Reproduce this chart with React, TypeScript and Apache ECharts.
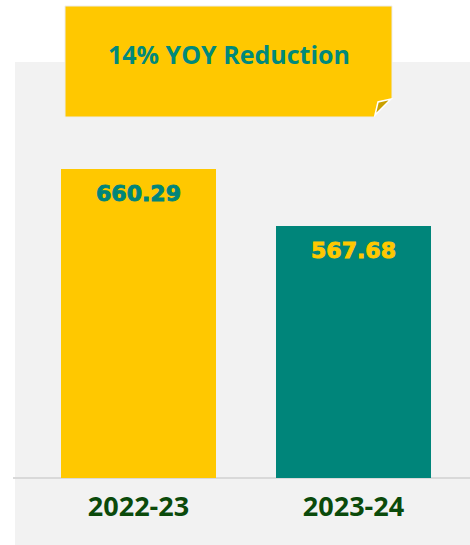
import React, { useEffect, useRef } from "react";
import * as echarts from "echarts";

const categories = ["2022-23", "2023-24"];
const values = [660.29, 567.68];
const barColors = ["#FFC800", "#00857A"];
const labelColors = ["#00857A", "#FFC800"];
const calloutText = "14% YOY Reduction";

export default function App() {
  const ref = useRef<HTMLDivElement>(null);
  useEffect(() => {
    if (!ref.current) return;
    const chart = echarts.init(ref.current, null, { renderer: "svg" });
    chart.setOption({
      animation: false,
      backgroundColor: "#ffffff",
      grid: { left: 31, width: 430, top: 83, bottom: 67 },
      xAxis: {
        type: "category",
        data: categories,
        axisLine: { show: false },
        axisTick: { show: false },
        axisLabel: {
          margin: 14,
          color: "#0B4A0B",
          fontFamily: "Open Sans",
          fontWeight: "bold",
          fontSize: 27,
        },
      },
      yAxis: { type: "value", min: 158, max: 800, show: false, splitLine: { show: false } },
      series: [
        {
          type: "bar",
          barWidth: 155,
          z: 3,
          data: values.map((v, i) => ({
            value: v,
            itemStyle: { color: barColors[i] },
            label: {
              color: labelColors[i],
              textBorderColor: labelColors[i],
              textBorderWidth: 0.9,
            },
          })),
          label: {
            show: true,
            position: "insideTop",
            distance: 14,
            fontFamily: "DejaVu Sans",
            fontWeight: "bold",
            fontSize: 22,
            formatter: (p: any) => p.value.toFixed(2),
          },
        },
      ],
      graphic: [
        {
          type: "rect",
          z: -10,
          silent: true,
          shape: { x: 15, y: 62, width: 455, height: 483 },
          style: { fill: "#F2F2F2" },
        },
        {
          type: "line",
          z: 1,
          silent: true,
          shape: { x1: 13, y1: 478, x2: 470, y2: 478 },
          style: { stroke: "#D9D9D9", lineWidth: 2 },
        },
        {
          type: "polygon",
          z: 20,
          silent: true,
          shape: {
            points: [
              [65, 6],
              [392, 6],
              [392, 99],
              [374, 117],
              [65, 117],
            ],
          },
          style: { fill: "#FFC800", stroke: "#EDEDED", lineWidth: 1 },
        },
        {
          type: "polygon",
          z: 21,
          silent: true,
          shape: {
            points: [
              [375, 115],
              [378, 102],
              [391, 99],
            ],
          },
          style: { fill: "#C9A000", stroke: "#FFFFFF", lineWidth: 1.5 },
        },
        {
          type: "text",
          z: 22,
          silent: true,
          x: 229,
          y: 54,
          style: {
            text: calloutText,
            fill: "#00897B",
            fontFamily: "Open Sans",
            fontWeight: "bold",
            fontSize: 25,
            align: "center",
            verticalAlign: "middle",
          },
        },
      ],
    });
    return () => chart.dispose();
  }, []);
  return (
    <div
      ref={ref}
      style={{ position: "fixed", left: 0, top: 0, width: 470, height: 545 }}
    />
  );
}
